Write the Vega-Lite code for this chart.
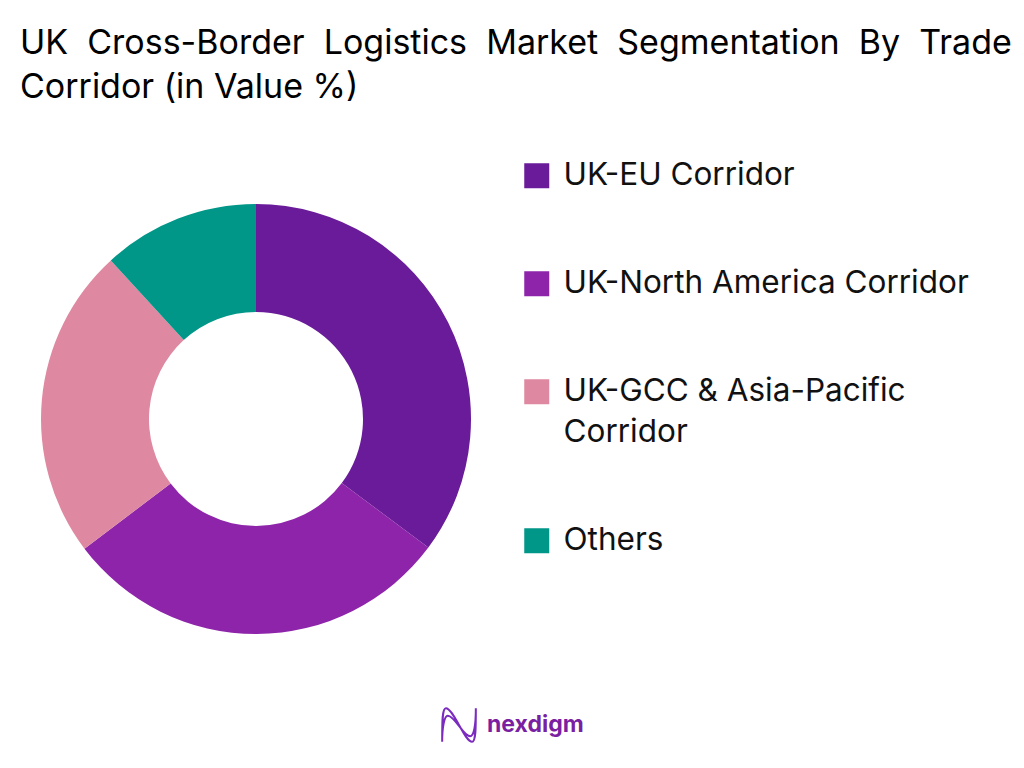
{
  "$schema": "https://vega.github.io/schema/vega-lite/v6.json",
  "width": 430,
  "height": 430,
  "autosize": {"type": "none"},
  "padding": {"left": 41, "top": 204, "right": 553, "bottom": 134},
  "background": "white",
  "view": {"stroke": null},
  "title": {
    "text": ["UK\u00a0 Cross-Border\u00a0 Logistics\u00a0 Market\u00a0 Segmentation\u00a0 By\u00a0 Trade", "Corridor (in Value %)"],
    "anchor": "start",
    "frame": "group",
    "dx": -21,
    "dy": -51,
    "font": "Inter",
    "fontSize": 34,
    "fontWeight": 400,
    "lineHeight": 44,
    "color": "#000000",
    "limit": 1000
  },
  "data": {
    "values": [
      {"corridor": "UK-EU Corridor", "share": 35.2},
      {"corridor": "UK-North America Corridor", "share": 29.5},
      {"corridor": "UK-GCC & Asia-Pacific Corridor", "share": 23.5},
      {"corridor": "Others", "share": 11.8}
    ]
  },
  "layer": [
    {
      "mark": {"type": "arc", "outerRadius": 215, "innerRadius": 107},
      "encoding": {
        "theta": {"field": "share", "type": "quantitative", "stack": true},
        "order": {"field": "share", "type": "quantitative", "sort": "descending"},
        "color": {
          "field": "corridor",
          "type": "nominal",
          "sort": null,
          "scale": {
            "domain": ["UK-EU Corridor", "UK-North America Corridor", "UK-GCC & Asia-Pacific Corridor", "Others"],
            "range": ["#6A1B9A", "#8E24AA", "#DE89A1", "#009688"]
          },
          "legend": {
            "orient": "none",
            "legendX": 480,
            "legendY": -44,
            "title": null,
            "symbolType": "square",
            "symbolSize": 625,
            "symbolStrokeWidth": 0,
            "labelFont": "Inter",
            "labelFontSize": 31.5,
            "labelColor": "#111111",
            "labelLimit": 460,
            "labelOffset": 11,
            "rowPadding": 75,
            "labelExpr": "datum.label == 'UK-GCC & Asia-Pacific Corridor' ? ['UK-GCC & Asia-Pacific', 'Corridor'] : datum.label",
            "encoding": {"labels": {"lineHeight": {"value": 41}}}
          }
        }
      }
    },
    {
      "mark": {"type": "point", "size": 0, "opacity": 0},
      "encoding": {
        "shape": {
          "datum": "nexdigm",
          "scale": {
            "domain": ["nexdigm"],
            "range": ["M-0.9,0.9 C-0.9,-0.2 -0.9,-0.9 -0.7,-0.9 C-0.3,-0.9 0.3,0.9 0.7,0.9 C0.9,0.9 0.9,0.2 0.9,-0.9 M-0.9,0.9 C-0.9,0.2 -0.8,-0.5 -0.6,-0.5 C-0.2,-0.5 0.2,0.6 0.6,0.6 C0.8,0.6 0.9,0 0.9,-0.9"]
          },
          "legend": {
            "orient": "none",
            "legendX": 398,
            "legendY": 501,
            "title": null,
            "symbolSize": 1400,
            "symbolFillColor": "transparent",
            "symbolStrokeColor": "#7B2CBF",
            "symbolStrokeWidth": 2,
            "symbolOpacity": 1,
            "labelFont": "Inter",
            "labelFontSize": 23,
            "labelFontWeight": 700,
            "labelColor": "#7B1FA2",
            "labelOffset": 8
          }
        }
      }
    }
  ]
}
